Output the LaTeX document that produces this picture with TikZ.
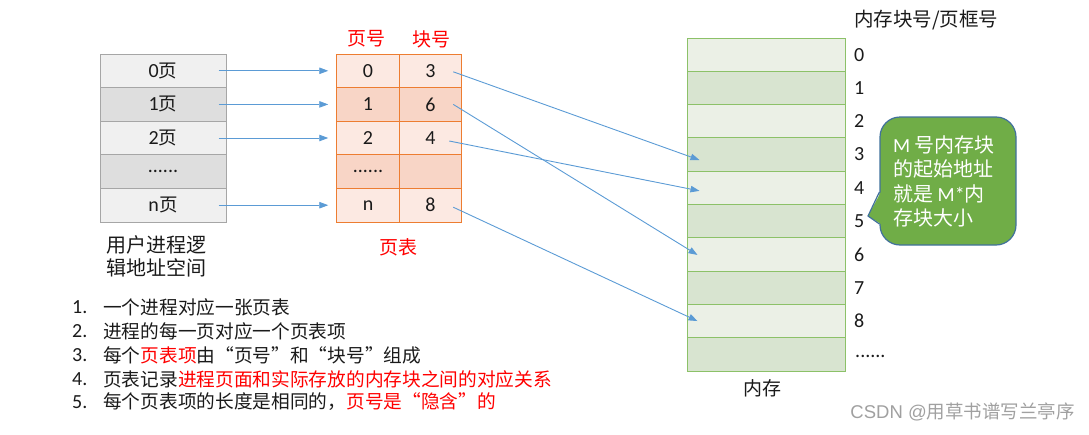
\documentclass[tikz,border=0pt]{standalone}
\usepackage{fontspec}
\setmainfont{Carlito}
\newfontfamily\cjk{Noto Sans CJK SC}
\newfontfamily\wmfont{Liberation Sans}
\usetikzlibrary{arrows.meta}
\definecolor{lgray}{HTML}{F0F0F0}
\definecolor{dgray}{HTML}{DEDEDE}
\definecolor{bgray}{HTML}{A6A6A6}
\definecolor{lpeach}{HTML}{FCE9E2}
\definecolor{dpeach}{HTML}{F8D5C6}
\definecolor{orng}{HTML}{ED7D31}
\definecolor{lgreen}{HTML}{EBF0E6}
\definecolor{dgreen}{HTML}{D8E4D0}
\definecolor{bgreen}{HTML}{8CC168}
\definecolor{arrblue}{HTML}{5B9BD5}
\definecolor{cgreen}{HTML}{70AD47}
\definecolor{cborder}{HTML}{41719C}
\definecolor{tred}{HTML}{FF0000}
\definecolor{wmgray}{HTML}{A0A0A0}
\definecolor{txt}{HTML}{1A1A1A}
\begin{document}
\begin{tikzpicture}[x=1pt,y=-1pt,
  cell/.style={draw, line width=1pt, minimum height=33.6pt, inner sep=0pt, text=txt, font=\fontsize{20}{22}\selectfont},
  lcell/.style={cell, draw=bgray, minimum width=126pt},
  tcell/.style={cell, draw=orng, minimum width=62.5pt},
  mcell/.style={draw=bgreen, line width=1pt, minimum width=158pt, minimum height=33.3pt, inner sep=0pt},
  arr/.style={-{Triangle[length=9pt,width=6.5pt]}, draw=arrblue, line width=0.9pt},
  lbl/.style={inner sep=0pt, text=txt, font=\fontsize{18.5}{23}\selectfont},
  redlbl/.style={inner sep=0pt, text=tred, font=\fontsize{19}{22}\selectfont\cjk},
  num/.style={inner sep=0pt, anchor=west, text=txt, font=\fontsize{20}{22}\selectfont},
  listitem/.style={inner sep=0pt, anchor=west, text=txt, font=\fontsize{18.7}{22}\selectfont\cjk}
]
\useasboundingbox (0,0) rectangle (1089,434);

% left: logical address space
\node[lcell, fill=lgray] (l0) at (163,70.8) {0{\cjk\fontsize{18.5}{20}\selectfont 页}};
\node[lcell, fill=dgray] (l1) at (163,104.4) {1{\cjk\fontsize{18.5}{20}\selectfont 页}};
\node[lcell, fill=lgray] (l2) at (163,138.0) {2{\cjk\fontsize{18.5}{20}\selectfont 页}};
\node[lcell, fill=dgray] (l3) at (163,171.6) {......};
\node[lcell, fill=lgray] (l4) at (163,205.2) {n{\cjk\fontsize{18.5}{20}\selectfont 页}};
\node[lbl, anchor=west, align=left, font=\fontsize{20}{23}\selectfont\cjk] (ltitle) at (106,256.5) {用户进程逻\\辑地址空间};

% page table
\node[tcell, fill=lpeach] (t0) at (368,70.8) {0};
\node[tcell, fill=lpeach] (b0) at (430.5,70.8) {3};
\node[tcell, fill=dpeach] (t1) at (368,104.4) {1};
\node[tcell, fill=dpeach] (b1) at (430.5,104.4) {6};
\node[tcell, fill=lpeach] (t2) at (368,138.0) {2};
\node[tcell, fill=lpeach] (b2) at (430.5,138.0) {4};
\node[tcell, fill=dpeach] (t3) at (368,171.6) {......};
\node[tcell, fill=dpeach] (b3) at (430.5,171.6) {};
\node[tcell, fill=lpeach] (t4) at (368,205.2) {n};
\node[tcell, fill=lpeach] (b4) at (430.5,205.2) {8};
\node[redlbl] (h1) at (366,39) {页号};
\node[redlbl] (h2) at (431,39) {块号};
\node[redlbl] (ptitle) at (398,247) {页表};

% memory
\foreach \i/\c in {0/lgreen,1/dgreen,2/lgreen,3/dgreen,4/lgreen,5/dgreen,6/lgreen,7/dgreen,8/lgreen,9/dgreen}{
  \node[mcell, fill=\c] (m\i) at (766,{38+33.3*(\i+0.5)}) {};
}
\foreach \i in {0,...,8}{
  \node[num] (k\i) at (854,{38+33.3*(\i+0.5)}) {\i};
}
\node[num] (kd) at (855,356) {......};
\node[lbl, anchor=west, font=\fontsize{19.5}{22}\selectfont\cjk] (mhead) at (854,20) {内存块号/页框号};
\node[lbl, font=\fontsize{19}{22}\selectfont\cjk] (mtitle) at (762,388) {内存};

% arrows logical -> page table
\foreach \i in {0,1,2,4}{
  \draw[arr] ([xshift=-8pt]l\i.east) -- ([xshift=-8pt]t\i.west);
}
% arrows page table -> memory
\draw[arr] ([xshift=-9pt,yshift=-1pt]b0.east) -- ([xshift=13pt,yshift=-5.5pt]m3.west);
\draw[arr] ([xshift=-9pt]b1.east) -- ([xshift=11pt,yshift=-0.5pt]m6.west);
\draw[arr] ([xshift=-13pt,yshift=-3pt]b2.east) -- ([xshift=13pt,yshift=-3pt]m4.west);
\draw[arr] ([xshift=-9pt,yshift=-2pt]b4.east) -- ([xshift=11pt]m8.west);

% callout
\node[draw=cborder, fill=cgreen, line width=1.2pt, rounded corners=20pt, minimum width=136pt, minimum height=128pt, inner sep=0pt] (co) at (948,181) {};
\coordinate (tip) at (868,216);
\fill[cgreen] ([xshift=1.5pt,yshift=-11pt]co.west) -- (tip) -- ([xshift=1.5pt,yshift=-43pt]co.west) -- cycle;
\draw[cborder, line width=1.2pt] ([yshift=-11pt]co.west) -- (tip) -- ([yshift=-43pt]co.west);
\node[anchor=west, align=left, inner sep=0pt, text=white, font=\fontsize{20}{24.4}\selectfont] (cotext) at (893,181.5)
  {M {\cjk 号内存块}\\{\cjk 的起始地址}\\{\cjk 就是} M*{\cjk 内}\\{\cjk 存块大小}};

% list
\foreach \i/\y in {1/307,2/331,3/355,4/379,5/402}{
  \node[num] (n\i) at (72,\y) {\i.};
}
\node[listitem] (i1) at (103,307) {一个进程对应一张页表};
\node[listitem] (i2) at (103,331) {进程的每一页对应一个页表项};
\node[listitem] (i3) at (103,355) {每个\textcolor{tred}{页表项}由“页号”和“块号”组成};
\node[listitem] (i4) at (103,379) {页表记录\textcolor{tred}{进程页面和实际存放的内存块之间的对应关系}};
\node[listitem] (i5) at (103,402) {每个页表项的长度是相同的，\textcolor{tred}{页号是“隐含”的}};

% watermark
\node[anchor=east, inner sep=0pt, text=wmgray, font=\fontsize{18.5}{20}\selectfont] (wm) at (1075,412) {\wmfont CSDN @\cjk 用草书谱写兰亭序};
\end{tikzpicture}
\end{document}
